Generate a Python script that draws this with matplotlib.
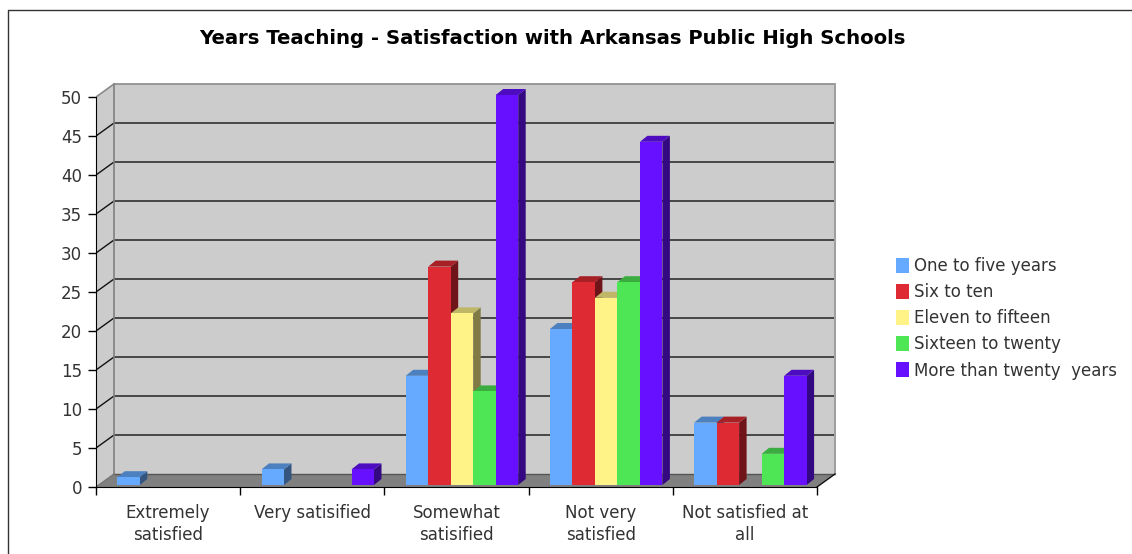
import matplotlib
matplotlib.use("Agg")
import matplotlib.pyplot as plt
from matplotlib.lines import Line2D
from matplotlib.patches import Patch, Polygon
from matplotlib.colors import to_rgb

title = "Years Teaching - Satisfaction with Arkansas Public High Schools"
categories = ["Extremely\nsatisfied", "Very satisified", "Somewhat\nsatisified",
              "Not very\nsatisfied", "Not satisfied at\nall"]
series_names = ["One to five years", "Six to ten", "Eleven to fifteen",
                "Sixteen to twenty", "More than twenty  years"]
one_to_five = [1, 2, 14, 20, 8]
six_to_ten = [0, 0, 28, 26, 8]
eleven_to_fifteen = [0, 0, 22, 24, 0]
sixteen_to_twenty = [0, 0, 12, 26, 4]
more_than_twenty = [0, 2, 50, 44, 14]
y_ticks = list(range(0, 55, 5))

series = [one_to_five, six_to_ten, eleven_to_fifteen, sixteen_to_twenty, more_than_twenty]
colors = ["#66aaff", "#dd2a33", "#fff388", "#4ee655", "#6610ff"]

W, H = 1132, 554
PX_X = 144.2  # pixels per category
PX_Y = 7.8    # pixels per value unit
DX, DY = 18 / PX_X, 13 / PX_Y        # depth of the box
BAR_DX, BAR_DY = 7.5 / PX_X, 6 / PX_Y  # depth of a bar
BAR_W = 22.5 / PX_X
BAR_START = 21.3 / PX_X
BAR_BASE = 2 / PX_Y
TEXT = "#333333"
LABEL_SIZE = 12.0


def shade(color, k):
    return tuple(c * k for c in to_rgb(color))


fig = plt.figure(figsize=(W / 100, H / 100), dpi=100, facecolor="white")
ax = fig.add_axes([96 / W, (H - 487) / H, 740 / W, 403.5 / H])
ax.set_xlim(0, 740 / PX_X)
ax.set_ylim(0, 403.5 / PX_Y)
ax.patch.set_visible(False)
n = len(categories)
top = y_ticks[-1]

# box: back wall, left wall, floor
ax.add_patch(Polygon([(DX, DY), (n + DX, DY), (n + DX, top + DY), (DX, top + DY)],
                     fc="#cccccc", ec="none", zorder=1))
ax.add_patch(Polygon([(0, 0), (DX, DY), (DX, top + DY), (0, top)],
                     fc="#cccccc", ec="none", zorder=1))
ax.add_patch(Polygon([(0, 0), (n, 0), (n + DX, DY), (DX, DY)],
                     fc="#808080", ec="none", zorder=1))

for v in y_ticks[1:-1]:
    ax.plot([0, DX, n + DX], [v, v + DY, v + DY], color="#111111", lw=1.0, zorder=1.5)
ax.plot([DX, n + DX], [DY, DY], color="#555555", lw=1.0, zorder=1.5)
ax.plot([0, DX, n + DX], [top, top + DY, top + DY], color="#8a8a8a", lw=1.2, zorder=1.5)
ax.plot([DX, DX], [0 + DY, top + DY], color="#808080", lw=1.2, zorder=1.6)
ax.plot([n + DX, n + DX], [DY, top + DY], color="#a0a0a0", lw=1.5, zorder=1.6)
ax.plot([n, n + DX], [0, DY], color="#111111", lw=1.0, zorder=1.6)
ax.plot([0, DX], [0, DY], color="#777777", lw=1.0, zorder=1.6)

# bars, left to right so that each one hides the side of the previous
z = 3
for c in range(n):
    for s, values in enumerate(series):
        v = values[c]
        if v == 0:
            continue
        x0 = c + BAR_START + s * BAR_W
        x1 = x0 + BAR_W
        y0, y1 = BAR_BASE, BAR_BASE + v
        ax.add_patch(Polygon([(x1, y0), (x1 + BAR_DX, y0 + BAR_DY),
                              (x1 + BAR_DX, y1 + BAR_DY), (x1, y1)],
                             fc=shade(colors[s], 0.5), ec="none", zorder=z))
        ax.add_patch(Polygon([(x0, y1), (x1, y1), (x1 + BAR_DX, y1 + BAR_DY),
                              (x0 + BAR_DX, y1 + BAR_DY)],
                             fc=shade(colors[s], 0.75), ec="none", zorder=z))
        ax.bar(x0, v, BAR_W, bottom=y0, align="edge", color=colors[s], zorder=z + 0.5)
        z += 1

for side in ("top", "right"):
    ax.spines[side].set_visible(False)
ax.spines["left"].set_bounds(0, top)
ax.spines["bottom"].set_bounds(0, n)
ax.spines["bottom"].set_zorder(2)
ax.spines["left"].set_zorder(2)

ax.set_yticks(y_ticks)
ax.tick_params(axis="y", length=6, width=1, pad=4, labelsize=LABEL_SIZE, labelcolor=TEXT)
ax.set_xticks(range(n + 1))
ax.set_xticklabels([])
ax.tick_params(axis="x", which="major", length=6, width=1)
ax.set_xticks([c + 0.5 for c in range(n)], minor=True)
ax.set_xticklabels(categories, minor=True, fontsize=LABEL_SIZE, color=TEXT, linespacing=1.3)
ax.tick_params(axis="x", which="minor", length=0, pad=12)

fig.text(552 / W, 1 - 38 / H, title, ha="center", va="center",
         fontsize=14.1, fontweight="bold", color="black")

handles = [Patch(fc=col, ec="none") for col in colors]
fig.legend(handles, series_names, loc="upper left",
           bbox_to_anchor=(896 / W, 1 - 257 / H), frameon=False,
           fontsize=LABEL_SIZE, labelcolor=TEXT, handlelength=0.8, handleheight=1.0,
           handletextpad=0.3, labelspacing=0.49, borderpad=0, borderaxespad=0)

# outer frame runs off the right and bottom of the picture
fig.add_artist(Line2D([1, 7.5 / W, 7.5 / W], [1 - 10 / H, 1 - 10 / H, 0],
                      color="#333333", lw=1.0))

fig.savefig("out.png", dpi=100, facecolor="white")
plt.close(fig)
